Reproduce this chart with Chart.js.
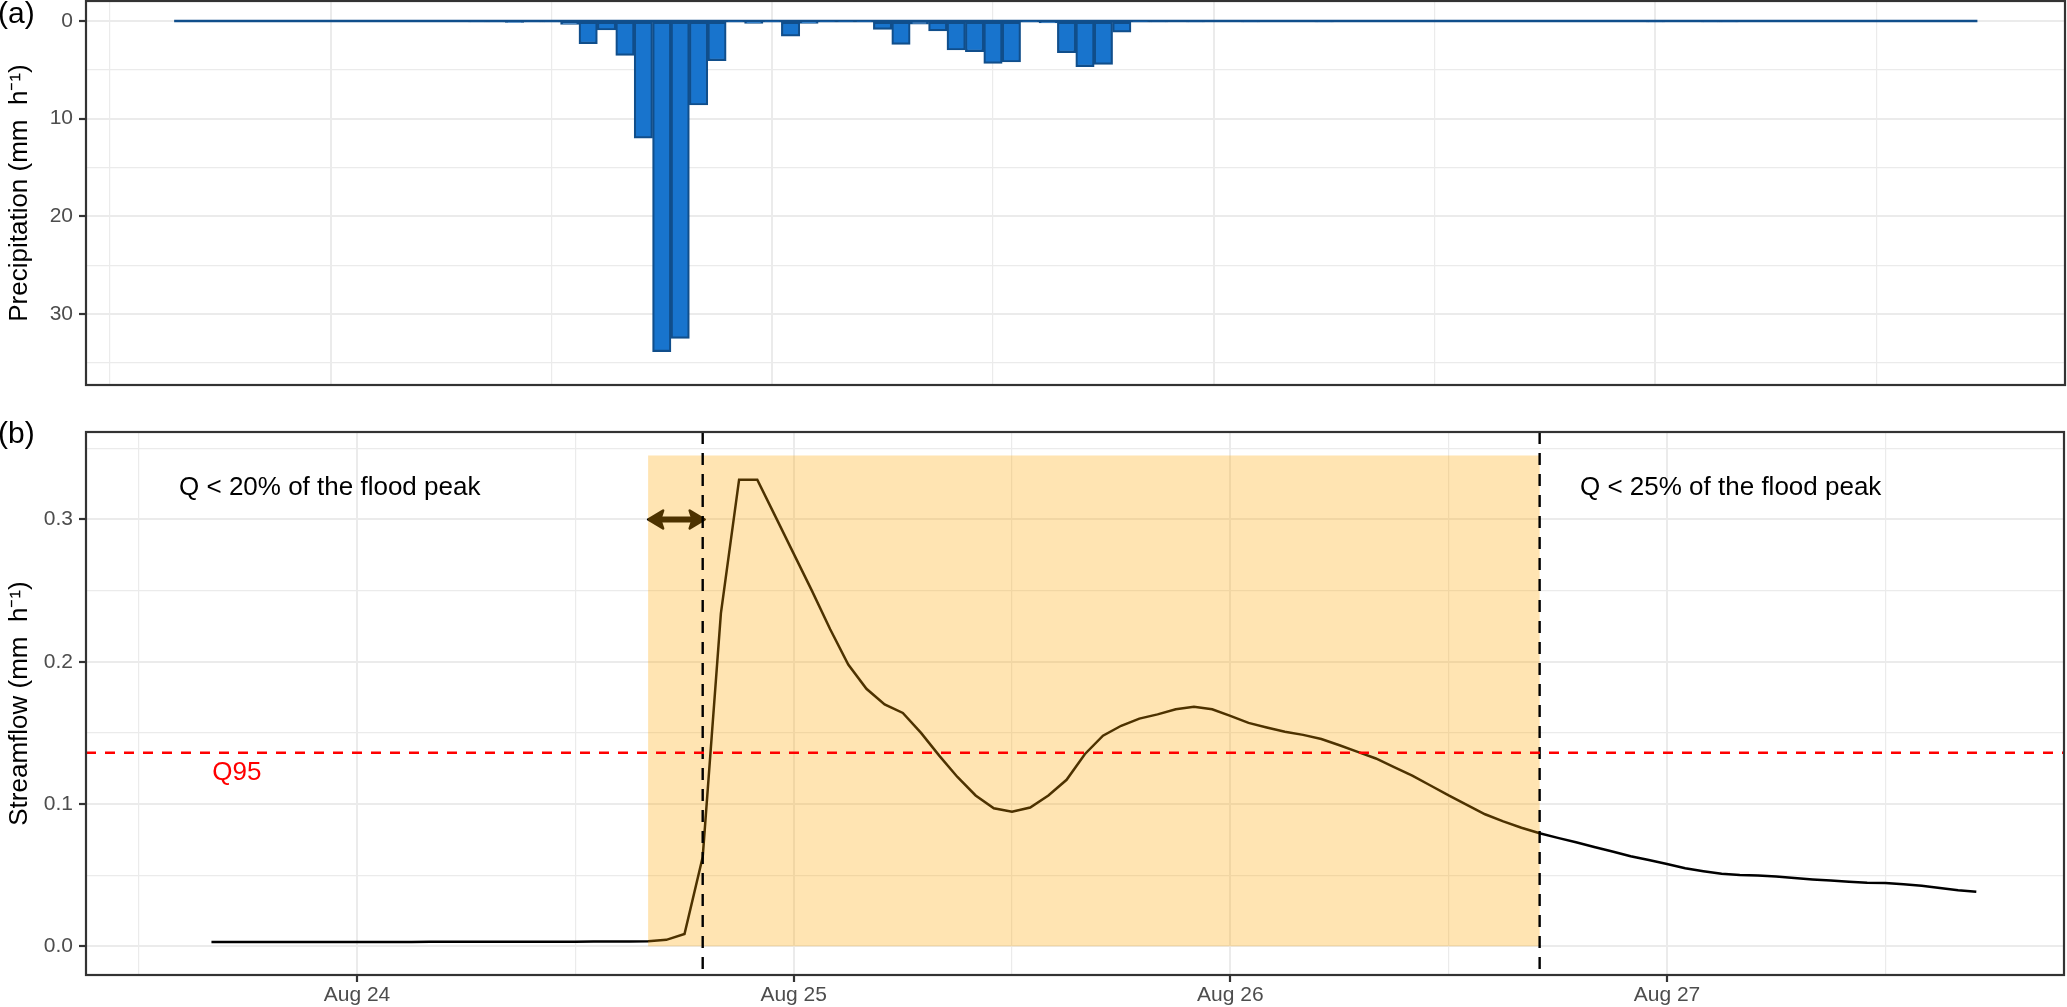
<!DOCTYPE html>
<html>
<head>
<meta charset="utf-8">
<script src="https://cdn.jsdelivr.net/npm/chart.js@4.4.1/dist/chart.umd.min.js"></script>
<style>
html,body{margin:0;padding:0;background:#fff;}
#wrap{position:relative;width:2067px;height:1007px;overflow:hidden;background:#fff;}
.pane{position:absolute;left:0;width:2067px;}
.tag{position:absolute;font-family:"Liberation Sans",Arial,sans-serif;font-size:30px;line-height:30px;color:#000;white-space:nowrap;}
</style>
</head>
<body>
<div id="wrap">
  <div class="pane" style="top:0;height:395px"><canvas id="cA"></canvas></div>
  <div class="pane" style="top:400px;height:607px"><canvas id="cB"></canvas></div>
  <div class="tag" style="left:-2px;top:-2px">(a)</div>
  <div class="tag" style="left:-2px;top:418px">(b)</div>
</div>
<script>
const FONT = '"Liberation Sans", Arial, Helvetica, sans-serif';

// hours relative to Aug 24 00:00
const hours = [-8,-7,-6,-5,-4,-3,-2,-1,0,1,2,3,4,5,6,7,8,9,10,11,12,13,14,15,16,17,18,19,20,21,22,23,24,25,26,27,28,29,30,31,32,33,34,35,36,37,38,39,40,41,42,43,44,45,46,47,48,49,50,51,52,53,54,55,56,57,58,59,60,61,62,63,64,65,66,67,68,69,70,71,72,73,74,75,76,77,78,79,80,81,82,83,84,85,86,87,88,89];

// precipitation (mm h-1)
const precip = [
 0,0,0,0,0,0,0,0,
 0,0,0,0,0,0,0,0,
 0.1,0.1,0.15,0.1,0.1,0.35,2.32,0.92,
 3.52,12.0,33.85,32.5,8.6,4.06,0.05,0.24,
 0.05,1.54,0.24,0.05,0.05,0.05,0.85,2.39,
 0.31,1.02,2.97,3.14,4.33,4.2,0.05,0.2,
 3.24,4.68,4.44,1.13,0.05,0.1,0,0.1,
 0,0,0.1,0,0,0,0.1,0,
 0,0,0,0,0,0,0,0,
 0,0,0,0,0,0,0,0,
 0.1,0,0,0.1,0.1,0,0,0,
 0,0,0,0,0,0,0,0,
 0,0
];

// streamflow (mm h-1)
const flow = [
 0.003,0.003,0.003,0.003,0.003,0.003,0.003,0.003,
 0.003,0.003,0.003,0.003,0.0032,0.0032,0.0032,0.0032,
 0.0032,0.0032,0.0032,0.0032,0.0032,0.0033,0.0033,0.0033,
 0.0035,0.0045,0.0086,0.0627,0.234,0.328,0.328,0.302,
 0.276,0.250,0.223,0.198,0.181,0.170,0.164,0.150,
 0.134,0.119,0.106,0.097,0.0945,0.0975,0.106,0.117,
 0.135,0.148,0.155,0.160,0.163,0.1666,0.1684,0.1666,
 0.162,0.157,0.1538,0.1508,0.1486,0.1457,0.1413,0.1366,
 0.132,0.126,0.120,0.113,0.106,0.0994,0.0928,0.0878,
 0.0833,0.0794,0.0762,0.0731,0.0698,0.0666,0.0633,0.0606,
 0.0578,0.0549,0.0528,0.0509,0.0501,0.0497,0.0491,0.0480,
 0.0470,0.0462,0.0454,0.0447,0.0444,0.0436,0.0425,0.0409,
 0.0394,0.0383
];

const tickHours = [0, 24, 48, 72];
const tickLabels = ['Aug 24', 'Aug 25', 'Aug 26', 'Aug 27'];
const precipTicks = [0, 10, 20, 30];
const flowTicks = [0, 0.1, 0.2, 0.3];

const q95 = 0.136;
const floodStart = 16;   // start of shaded flood period (h)
const peakLine = 19;     // first dashed line (h)
const floodEnd = 65;     // end of flood period (h)
const shadeTop = 0.345;
const arrowY = 0.30;
const noteTexts = ['Q < 20% of the flood peak', 'Q < 25% of the flood peak'];
const noteX = [-1.5, 75.5];
const noteY = [0.3225, 0.3225];
const q95Text = 'Q95';
const q95TextX = -6.6;
const q95TextY = 0.122;

Chart.defaults.font.family = FONT;
Chart.defaults.animation = false;

const GRID = '#EBEBEB';

function noPad(s){ s.paddingTop = 0; s.paddingBottom = 0; s.paddingLeft = 0; s.paddingRight = 0; }

function borderPlugin(id){
  return {
    id,
    afterDraw(chart){
      const {ctx, chartArea:a} = chart;
      ctx.save();
      ctx.strokeStyle = '#333333';
      ctx.lineWidth = 2.2;
      ctx.strokeRect(a.left, a.top, a.right - a.left, a.bottom - a.top);
      ctx.restore();
    }
  };
}

// ---------- (a) precipitation ----------
new Chart(document.getElementById('cA'), {
  type: 'bar',
  data: {
    datasets: [
      {
        type: 'bar',
        data: hours.map((h, i) => ({x: h, y: precip[i]})),
        backgroundColor: '#1874CD',
        borderColor: '#104E8B',
        borderWidth: 2.2,
        borderSkipped: false,
        barPercentage: 1,
        categoryPercentage: 1,
        order: 0
      },
      {
        type: 'line',
        data: [{x: hours[0] - 0.5, y: 0}, {x: hours[hours.length - 1] + 0.5, y: 0}],
        borderColor: '#104E8B',
        borderWidth: 2.6,
        pointRadius: 0,
        order: 1
      }
    ]
  },
  options: {
    responsive: true,
    maintainAspectRatio: false,
    layout: {padding: {left: 0, right: 2, top: 1, bottom: 10}},
    plugins: {legend: {display: false}, tooltip: {enabled: false}},
    events: [],
    scales: {
      x: {
        type: 'linear', min: -13.29, max: 94.26, offset: false,
        grid: {offset: false, color: GRID, lineWidth: c => (c.tick && Math.round(c.tick.value) % 24 === 0) ? 2 : 1.2, drawTicks: false},
        ticks: {display: false, stepSize: 12, includeBounds: false, autoSkip: false},
        border: {display: false},
        afterFit: s => { s.height = 0; noPad(s); }
      },
      y: {
        type: 'linear', reverse: true, min: -2.05, max: 37.27,
        ticks: {
          stepSize: 5, includeBounds: false, autoSkip: false, color: '#4D4D4D',
          font: {family: FONT, size: 21}, padding: 6,
          callback: v => precipTicks.includes(Math.round(v)) && Math.abs(v - Math.round(v)) < 1e-6 ? String(Math.round(v)) : ''
        },
        grid: {
          color: GRID,
          lineWidth: c => (c.tick && precipTicks.includes(Math.round(c.tick.value))) ? 2 : 1.2,
          tickLength: 7,
          tickWidth: 2.2,
          tickColor: c => (c.tick && precipTicks.includes(Math.round(c.tick.value))) ? '#333333' : 'rgba(0,0,0,0)'
        },
        border: {display: false},
        title: {display: true, text: 'Precipitation (mm  h\u207B\u00B9)', color: '#000', font: {family: FONT, size: 26}, padding: {top: 4, bottom: 0}},
        afterFit: s => { s.width = 86; noPad(s); }
      }
    }
  },
  plugins: [borderPlugin('borderA')]
});

// ---------- (b) streamflow ----------
const flowDecor = {
  id: 'flowDecor',
  afterDatasetsDraw(chart){
    const {ctx, chartArea:a, scales:{x, y}} = chart;
    ctx.save();
    ctx.beginPath();
    ctx.rect(a.left, a.top, a.right - a.left, a.bottom - a.top);
    ctx.clip();

    // double arrow (drawn black, then tinted by the shaded box)
    const ay = y.getPixelForValue(arrowY);
    const ax1 = x.getPixelForValue(floodStart);
    const ax2 = x.getPixelForValue(peakLine) + 2;
    ctx.strokeStyle = '#000'; ctx.fillStyle = '#000';
    ctx.lineWidth = 6; ctx.lineCap = 'butt';
    ctx.beginPath(); ctx.moveTo(ax1 + 8, ay); ctx.lineTo(ax2 - 8, ay); ctx.stroke();
    const hl = 15, hw = 9;
    ctx.lineJoin = 'round'; ctx.lineWidth = 2.5;
    ctx.beginPath(); ctx.moveTo(ax1, ay); ctx.lineTo(ax1 + hl, ay - hw); ctx.lineTo(ax1 + hl - 3, ay); ctx.lineTo(ax1 + hl, ay + hw); ctx.closePath(); ctx.fill(); ctx.stroke();
    ctx.beginPath(); ctx.moveTo(ax2, ay); ctx.lineTo(ax2 - hl, ay - hw); ctx.lineTo(ax2 - hl + 3, ay); ctx.lineTo(ax2 - hl, ay + hw); ctx.closePath(); ctx.fill(); ctx.stroke();

    // shaded flood period
    const rx1 = x.getPixelForValue(floodStart), rx2 = x.getPixelForValue(floodEnd);
    const ry1 = y.getPixelForValue(shadeTop), ry2 = y.getPixelForValue(0);
    ctx.fillStyle = 'rgba(255,165,0,0.3)';
    ctx.fillRect(rx1, ry1, rx2 - rx1, ry2 - ry1);

    // vertical dashed lines
    ctx.setLineDash([12, 9]);
    ctx.lineWidth = 2.4; ctx.strokeStyle = '#000';
    [peakLine, floodEnd].forEach(h => {
      const px = x.getPixelForValue(h);
      ctx.beginPath(); ctx.moveTo(px, a.top); ctx.lineTo(px, a.bottom); ctx.stroke();
    });

    // Q95 line
    ctx.setLineDash([10, 9]);
    ctx.strokeStyle = '#FF0000';
    const qy = y.getPixelForValue(q95);
    ctx.beginPath(); ctx.moveTo(a.left, qy); ctx.lineTo(a.right, qy); ctx.stroke();
    ctx.setLineDash([]);

    // texts
    ctx.font = '26px ' + FONT;
    ctx.textAlign = 'center'; ctx.textBaseline = 'middle';
    ctx.fillStyle = '#000';
    noteTexts.forEach((t, i) => ctx.fillText(t, x.getPixelForValue(noteX[i]), y.getPixelForValue(noteY[i])));
    ctx.fillStyle = '#FF0000';
    ctx.fillText(q95Text, x.getPixelForValue(q95TextX), y.getPixelForValue(q95TextY));
    ctx.restore();
  }
};

new Chart(document.getElementById('cB'), {
  type: 'line',
  data: {
    datasets: [{
      data: hours.map((h, i) => ({x: h, y: flow[i]})),
      borderColor: '#000',
      borderWidth: 2.5,
      pointRadius: 0,
      tension: 0,
      fill: false
    }]
  },
  options: {
    responsive: true,
    maintainAspectRatio: false,
    layout: {padding: {left: 0, right: 3, top: 32, bottom: 0}},
    plugins: {legend: {display: false}, tooltip: {enabled: false}},
    events: [],
    scales: {
      x: {
        type: 'linear', min: -14.895, max: 93.82, offset: false,
        ticks: {
          stepSize: 12, includeBounds: false, autoSkip: false, maxRotation: 0, minRotation: 0,
          color: '#4D4D4D', font: {family: FONT, size: 21}, padding: 1,
          callback: v => { const k = tickHours.indexOf(Math.round(v)); return k >= 0 ? tickLabels[k] : ''; }
        },
        grid: {
          color: GRID,
          lineWidth: c => (c.tick && tickHours.includes(Math.round(c.tick.value))) ? 2 : 1.2,
          tickLength: 7,
          tickWidth: 2.2,
          tickColor: c => (c.tick && tickHours.includes(Math.round(c.tick.value))) ? '#333333' : 'rgba(0,0,0,0)'
        },
        border: {display: false},
        afterFit: s => { s.height = 32; noPad(s); }
      },
      y: {
        type: 'linear', min: -0.0202, max: 0.3615,
        ticks: {
          stepSize: 0.05, includeBounds: false, autoSkip: false, color: '#4D4D4D',
          font: {family: FONT, size: 21}, padding: 6,
          callback: v => { const r = Math.round(v * 100); return (r % 10 === 0) ? (r / 100).toFixed(1) : ''; }
        },
        grid: {
          color: GRID,
          lineWidth: c => (c.tick && Math.round(c.tick.value * 100) % 10 === 0) ? 2 : 1.2,
          tickLength: 7,
          tickWidth: 2.2,
          tickColor: c => (c.tick && Math.round(c.tick.value * 100) % 10 === 0) ? '#333333' : 'rgba(0,0,0,0)'
        },
        border: {display: false},
        title: {display: true, text: 'Streamflow (mm  h\u207B\u00B9)', color: '#000', font: {family: FONT, size: 26}, padding: {top: 4, bottom: 0}},
        afterFit: s => { s.width = 86; noPad(s); }
      }
    }
  },
  plugins: [flowDecor, borderPlugin('borderB')]
});
</script>
</body>
</html>
